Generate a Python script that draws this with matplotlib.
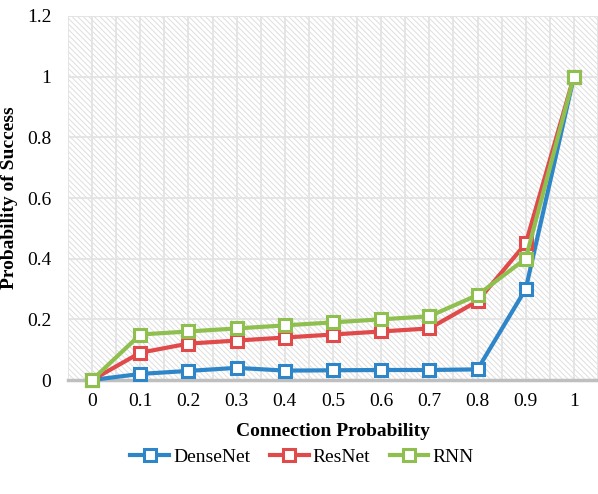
import matplotlib
matplotlib.use("Agg")
import matplotlib.pyplot as plt

plt.rcParams['font.family'] = ['Liberation Serif', 'DejaVu Serif']
plt.rcParams['hatch.color'] = '#dedede'
plt.rcParams['hatch.linewidth'] = 0.7

categories = ['0', '0.1', '0.2', '0.3', '0.4', '0.5', '0.6', '0.7', '0.8', '0.9', '1']
densenet = [0, 0.02, 0.03, 0.04, 0.031, 0.032, 0.033, 0.033, 0.035, 0.30, 1.0]
resnet = [0, 0.09, 0.12, 0.13, 0.14, 0.15, 0.16, 0.17, 0.26, 0.45, 1.0]
rnn = [0, 0.15, 0.16, 0.17, 0.18, 0.19, 0.20, 0.21, 0.28, 0.40, 1.0]
series = [('DenseNet', densenet, '#2e86c8'), ('ResNet', resnet, '#e04a4a'), ('RNN', rnn, '#8fc04f')]
yticks = [0, 0.2, 0.4, 0.6, 0.8, 1.0, 1.2]
ytick_labels = ['0', '0.2', '0.4', '0.6', '0.8', '1', '1.2']

fig = plt.figure(figsize=(5.98, 4.94), dpi=100)
ax = fig.add_axes([68/598, 1-380/494, 1-68/598, (380-16)/494])
ax.patch.set_facecolor('white')
ax.patch.set_hatch('\\\\\\\\\\\\')
ax.patch.set_edgecolor('#dedede')

x = list(range(len(categories)))
for name, vals, col in series:
    ax.plot(x, vals, color=col, lw=3, marker='s', markersize=9, markerfacecolor='white',
            markeredgecolor=col, markeredgewidth=2.2, label=name, zorder=3, clip_on=False)

ax.set_xlim(-0.5, len(categories) - 0.5)
ax.set_ylim(0, 1.2)
ax.set_xticks(x)
ax.set_xticklabels(categories)
ax.set_yticks(yticks)
ax.set_yticklabels(ytick_labels)
ax.set_xticks([i - 0.5 for i in range(len(categories) + 1)], minor=True)
ax.grid(True, which='major', axis='both', color='#e3e3e3', lw=1.3, zorder=1)
ax.grid(True, which='minor', axis='x', color='#e3e3e3', lw=1.3, zorder=1)
ax.set_axisbelow(True)
ax.tick_params(axis='both', which='both', length=0, labelsize=14, colors='black')
ax.tick_params(axis='x', pad=9)
ax.tick_params(axis='y', pad=12)
for s in ['top', 'right', 'left']:
    ax.spines[s].set_visible(False)
ax.spines['bottom'].set_color('#bfbfbf')
ax.spines['bottom'].set_linewidth(2.5)
ax.spines['bottom'].set_zorder(2)

ax.set_xlabel('Connection Probability', fontsize=14, fontweight='bold', labelpad=10)
ax.set_ylabel('Probability of Success', fontsize=14, fontweight='bold', labelpad=6)

fig.legend(loc='center', bbox_to_anchor=(0.505, 0.075), ncol=3, frameon=False, fontsize=14,
           handlelength=2.0, columnspacing=1.0, handletextpad=0.2)

fig.savefig('out.png', dpi=100)
